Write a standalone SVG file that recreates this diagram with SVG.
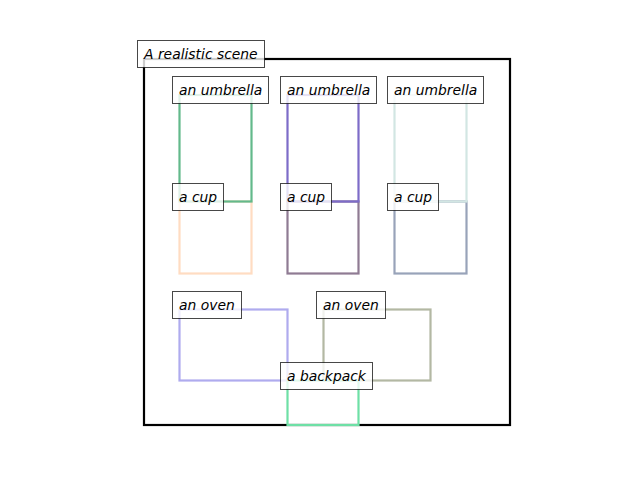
<svg xmlns="http://www.w3.org/2000/svg" width="640" height="480" viewBox="0 0 640 480">
<style>
.box{fill:none;stroke-width:2.2}
.lbl rect{fill:#ffffff;fill-opacity:0.8;stroke:#000;stroke-opacity:0.72;stroke-width:1}
.lbl text{font-family:"DejaVu Sans",sans-serif;font-style:oblique;font-size:13.89px;fill:#000}
</style>
<rect width="640" height="480" fill="#ffffff"/>
<g id="frame"><rect x="144" y="59" width="366" height="366" fill="none" stroke="#000" stroke-width="2.2"/></g>
<g id="connectors"></g>
<g id="cup1"><rect class="box" x="179.5" y="201.5" width="72" height="72" stroke="#ffdcc2"/></g>
<g id="cup2"><rect class="box" x="287.5" y="201.5" width="71" height="72" stroke="#8f7b93"/></g>
<g id="cup3"><rect class="box" x="394.5" y="201.5" width="72" height="72" stroke="#98a3b9"/></g>
<g id="umbrella1"><rect class="box" x="179.5" y="95" width="72" height="106.5" stroke="#63b98b"/></g>
<g id="umbrella2"><rect class="box" x="287.5" y="95" width="71" height="106.5" stroke="#7d6cc8"/></g>
<g id="umbrella3"><rect class="box" x="394.5" y="95" width="72" height="106.5" stroke="#d2e6e3"/></g>
<g id="oven1"><rect class="box" x="179.5" y="309.5" width="108" height="71" stroke="#afabee"/></g>
<g id="oven2"><rect class="box" x="323.5" y="309.5" width="107" height="71" stroke="#b3b8a3"/></g>
<g id="backpack"><rect class="box" x="287.5" y="380.5" width="71" height="44.5" stroke="#6ee0a6"/></g>
<g id="label-title" class="lbl"><rect x="137.5" y="40.5" width="127" height="27"/><text x="144" y="58.5">A realistic scene</text></g>
<g id="label-umbrella1" class="lbl"><rect x="172.5" y="76.5" width="96" height="27"/><text x="179" y="95">an umbrella</text></g>
<g id="label-umbrella2" class="lbl"><rect x="280.5" y="76.5" width="96" height="27"/><text x="287" y="95">an umbrella</text></g>
<g id="label-umbrella3" class="lbl"><rect x="387.5" y="76.5" width="96" height="27"/><text x="394" y="95">an umbrella</text></g>
<g id="label-cup1" class="lbl"><rect x="172.5" y="183.5" width="51" height="27"/><text x="179" y="202">a cup</text></g>
<g id="label-cup2" class="lbl"><rect x="280.5" y="183.5" width="51" height="27"/><text x="287" y="202">a cup</text></g>
<g id="label-cup3" class="lbl"><rect x="387.5" y="183.5" width="51" height="27"/><text x="394" y="202">a cup</text></g>
<g id="label-oven1" class="lbl"><rect x="172.5" y="291.5" width="69" height="27"/><text x="179" y="310">an oven</text></g>
<g id="label-oven2" class="lbl"><rect x="316.5" y="291.5" width="69" height="27"/><text x="323" y="310">an oven</text></g>
<g id="label-backpack" class="lbl"><rect x="280.5" y="362.5" width="92" height="27"/><text x="287" y="381">a backpack</text></g>
</svg>
